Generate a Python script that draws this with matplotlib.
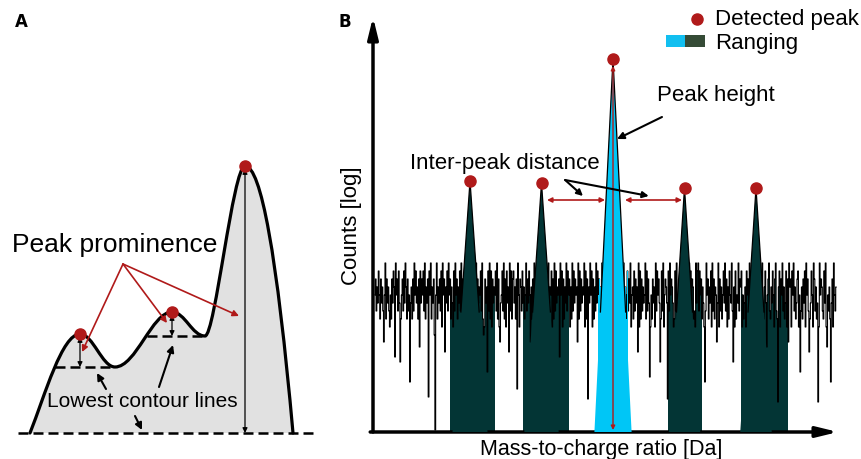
import numpy as np
import matplotlib.pyplot as plt
from matplotlib.path import Path
from matplotlib.patches import PathPatch, Polygon, Rectangle

plt.rcParams['font.family'] = ['Liberation Sans', 'DejaVu Sans']

RED = '#b01a1a'
GREEN = '#033535'
CYAN = '#00c6f6'

# ---- panel A: schematic profile (x in px-like units, h = height above baseline)
curve_nodes = [(30, 0), (80, 99), (115, 66), (172, 121), (205, 97), (245, 267), (293, 0)]
curve_handles = [((45, 38), (62, 99)), ((93, 99), (102, 66)), ((136, 66), (152, 121)),
                 ((185, 121), (192, 97)), ((215, 97), (233, 267)), ((261, 267), (277, 178))]
contour_x = [(55, 115), (147, 205), (18, 316)]
contour_h = [66, 97, 0]
peak_a_x = [80, 172, 245]
peak_a_h = [99, 121, 267]
peak_a_base = [66, 97, 0]

# ---- panel B: spectrum (m/z in Da, counts in log units)
peak_mz = [24, 25, 26, 27, 28]
peak_tip = [2.51, 2.49, 3.73, 2.44, 2.44]
peak_halfwidth = [0.245, 0.24, 0.26, 0.22, 0.22]
range_lo = [23.72, 24.74, 25.79, 26.77, 27.79]
range_hi = [24.35, 25.39, 26.22, 27.25, 28.46]
range_is_main = [False, False, True, False, False]
noise_digits = ("57364852746385927463152748619573846257384962735846273958462738"
                "47583926473859264708592647381957264839572641839572648395726483"
                "62839475618293746583920174658392817465839271645839271846593827"
                "84627395176384625937485162739584617293846518273946581729384657"
                "39581726493857162938475619283746591827364958172639485716293847"
                "65283947156283749562817394652837491562837465918273645928374615"
                "27461938574628391576428395764128395476218394576213948576231948"
                "93857264183957264819372658491736258493716285493761825493768152"
                "46185739264815739268417593268415793264851793246817593624817596"
                "71859362478159362748195736248519736248195763284917536284719536")
dips_mz = [22.80, 22.95, 23.02, 23.16, 23.30, 23.42, 23.51, 23.65, 23.89, 24.07,
           24.24, 24.42, 24.55, 24.66, 24.85, 25.09, 25.25, 25.50, 25.65, 26.35,
           26.52, 26.66, 26.76, 26.90, 27.10, 27.29, 27.45, 27.68, 27.90, 28.06,
           28.15, 28.31, 28.45, 28.62, 28.75, 28.87, 29.00, 29.05]
dips_h = [0.9, 0.75, 0.7, 0.5, 0.85, 0.35, 0.02, 0.8, 0.0, 0.33,
          0.6, 0.9, 0.8, 0.43, 0.9, 1.0, 0.75, 0.9, 0.33, 0.8,
          0.55, 0.7, 0.33, 0.85, 0.8, 0.5, 0.9, 0.7, 0.75, 0.4,
          0.85, 0.3, 0.9, 0.6, 0.8, 0.3, 0.85, 0.5]

fig = plt.figure(figsize=(8.62, 4.6), dpi=100)

# ================= panel A
axA = fig.add_axes([0, 0, 340 / 862, 1])
axA.set_xlim(0, 340)
axA.set_ylim(-26, 434)
axA.axis('off')

verts = [curve_nodes[0]]
codes = [Path.MOVETO]
for i, (c1, c2) in enumerate(curve_handles):
    verts += [c1, c2, curve_nodes[i + 1]]
    codes += [Path.CURVE4] * 3
fill_path = Path(verts + [curve_nodes[0]], codes + [Path.CLOSEPOLY])
axA.add_patch(PathPatch(fill_path, facecolor='#e1e1e1', edgecolor='none', zorder=1))
axA.add_patch(PathPatch(Path(verts, codes), fill=False, lw=2.3, edgecolor='k',
                        capstyle='round', zorder=3))

for (x0, x1), h in zip(contour_x, contour_h):
    axA.plot([x0, x1], [h, h], color='k', lw=1.8, dashes=(4, 2), zorder=4)

for x, top, base in zip(peak_a_x, peak_a_h, peak_a_base):
    axA.annotate('', xy=(x, base), xytext=(x, top - 3),
                 arrowprops=dict(arrowstyle='<|-|>', lw=0.9, color='k', mutation_scale=7,
                                 shrinkA=0, shrinkB=0), zorder=5)
axA.plot(peak_a_x, peak_a_h, 'o', color=RED, ms=8, zorder=6)

for end in [(82, 81), (167, 110), (239, 117)]:
    axA.annotate('', xy=end, xytext=(123, 169),
                 arrowprops=dict(arrowstyle='-|>', lw=1.2, color=RED, mutation_scale=9,
                                 shrinkA=0, shrinkB=0), zorder=6)
axA.text(115, 189, 'Peak prominence', fontsize=19, ha='center', va='center')

axA.text(142, 32, 'Lowest contour lines', fontsize=15, ha='center', va='center', zorder=6)
for start, end in [((106, 44), (97, 60)), ((159, 46), (173, 88)), ((135, 17), (142, 3))]:
    axA.annotate('', xy=end, xytext=start,
                 arrowprops=dict(arrowstyle='-|>', lw=1.5, color='k', mutation_scale=10,
                                 shrinkA=0, shrinkB=0), zorder=6)

fig.text(21 / 862, 1 - 22 / 460, 'A', fontsize=12, fontweight='bold', ha='center', va='center',
         family='DejaVu Sans')
fig.text(345 / 862, 1 - 22 / 460, 'B', fontsize=12, fontweight='bold', ha='center', va='center',
         family='DejaVu Sans')

# ================= panel B
axB = fig.add_axes([373 / 862, 1 - 433 / 460, 465 / 862, 415 / 460])
axB.set_xlim(22.643, 29.147)
axB.set_ylim(0, 4.15)
axB.axis('off')

x = np.linspace(22.67, 29.12, len(noise_digits))
noise = 0.97 + 0.08 * np.array([int(c) for c in noise_digits])
for mz, h in zip(dips_mz, dips_h):
    noise[np.argmin(np.abs(x - mz))] = h

axB.plot(x, noise, drawstyle='steps-mid', color='k', lw=0.8, zorder=3)

for lo, hi, main in zip(range_lo, range_hi, range_is_main):
    m = (x >= lo) & (x <= hi)
    axB.fill_between(x, 0, noise, where=m, step='mid', color=CYAN if main else GREEN,
                     lw=0, zorder=4 if main else 2)

for c, tip, hw, main in zip(peak_mz, peak_tip, peak_halfwidth, range_is_main):
    col = CYAN if main else GREEN
    axB.add_patch(Polygon([(c - hw, 0), (c, tip), (c + hw, 0)], closed=True,
                          facecolor=col, edgecolor='none', zorder=5))
    f = 1 - 1.2 / tip
    axB.plot([c - hw * f, c, c + hw * f], [1.2, tip, 1.2], color='k', lw=0.9, zorder=5.5)

axB.plot(peak_mz, peak_tip, 'o', color=RED, ms=8, zorder=7, clip_on=False)

axB.annotate('', xy=(26, 0.02), xytext=(26, 3.66),
             arrowprops=dict(arrowstyle='<|-|>', color=RED, lw=1, mutation_scale=6,
                             shrinkA=0, shrinkB=0), zorder=6)
for a, b in [(25.077, 25.888), (26.168, 26.965)]:
    axB.annotate('', xy=(b, 2.32), xytext=(a, 2.32),
                 arrowprops=dict(arrowstyle='<|-|>', color=RED, lw=1.2, mutation_scale=7,
                                 shrinkA=0, shrinkB=0), zorder=6)

axB.text(24.49, 2.70, 'Inter-peak distance', fontsize=16, ha='center', va='center')
for end in [(25.58, 2.36), (26.50, 2.36)]:
    axB.annotate('', xy=end, xytext=(25.33, 2.52),
                 arrowprops=dict(arrowstyle='-|>', lw=1.5, color='k', mutation_scale=9,
                                 shrinkA=0, shrinkB=0), zorder=6)

axB.text(27.44, 3.38, 'Peak height', fontsize=16, ha='center', va='center')
axB.annotate('', xy=(26.056, 2.93), xytext=(26.685, 3.15),
             arrowprops=dict(arrowstyle='-|>', lw=1.5, color='k', mutation_scale=10,
                             shrinkA=0, shrinkB=0), zorder=6)

# axes drawn as arrows
axB.annotate('', xy=(0, 1), xytext=(0, 0), xycoords='axes fraction',
             arrowprops=dict(arrowstyle='-|>,head_length=0.9,head_width=0.22', lw=2.5,
                             color='k', mutation_scale=14, shrinkA=0, shrinkB=0))
axB.annotate('', xy=(1, 0), xytext=(-0.006, 0), xycoords='axes fraction',
             arrowprops=dict(arrowstyle='-|>,head_length=0.9,head_width=0.22', lw=2.5,
                             color='k', mutation_scale=14, shrinkA=0, shrinkB=0))

fig.text(352 / 862, 1 - 226 / 460, 'Counts [log]', fontsize=16, rotation=90,
         ha='center', va='center')
fig.text(601 / 862, 1 - 450 / 460, 'Mass-to-charge ratio [Da]', fontsize=15.5,
         ha='center', va='center')

# legend
fig.lines.append(plt.Line2D([697 / 862], [1 - 20 / 460], marker='o', color=RED, ms=8,
                            transform=fig.transFigure))
fig.text(715 / 862, 1 - 20 / 460, 'Detected peak', fontsize=16, ha='left', va='center')
fig.add_artist(Rectangle((666 / 862, 1 - 48 / 460), 19 / 862, 12 / 460,
                         transform=fig.transFigure, facecolor='#12bff0', edgecolor='none'))
fig.add_artist(Rectangle((685 / 862, 1 - 48 / 460), 20 / 862, 12 / 460,
                         transform=fig.transFigure, facecolor='#354b36', edgecolor='none'))
fig.text(715 / 862, 1 - 43 / 460, 'Ranging', fontsize=16, ha='left', va='center')

fig.savefig('out.png', dpi=100)
